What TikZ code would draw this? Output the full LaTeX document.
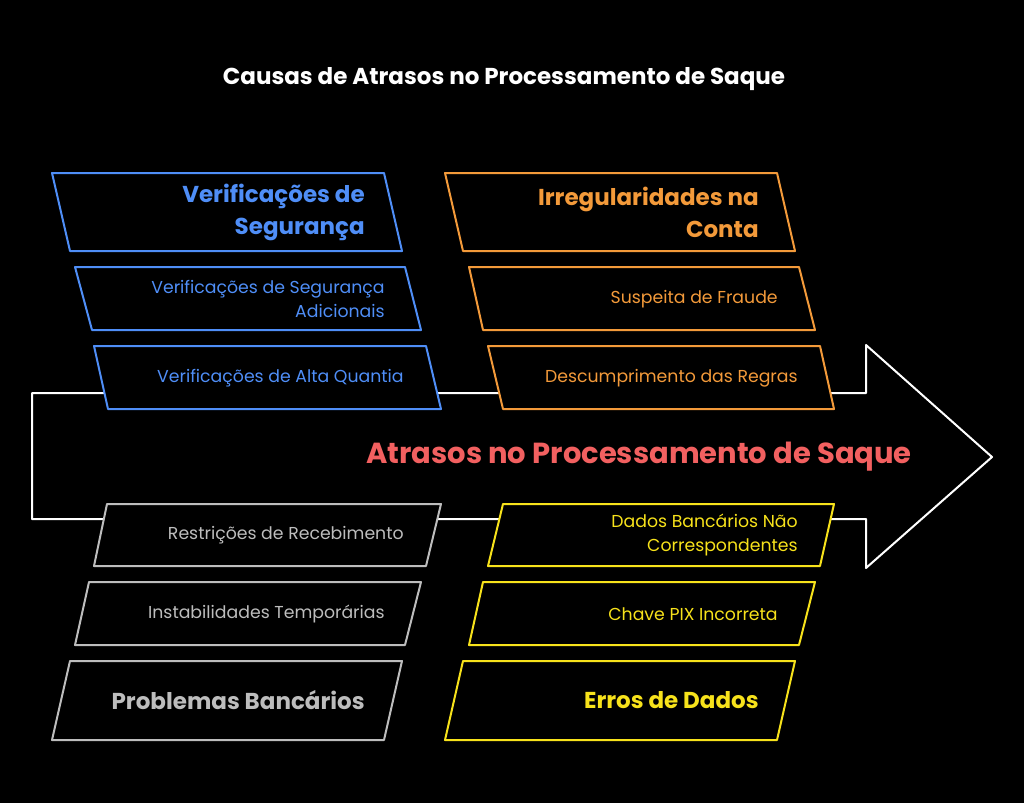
\documentclass[tikz,border=0pt]{standalone}
\usepackage{fontspec}
\setmainfont{Poppins}
\definecolor{cb}{HTML}{4F8EF7}
\definecolor{co}{HTML}{F39A3A}
\definecolor{cg}{HTML}{BDBDBD}
\definecolor{cy}{HTML}{F7E21B}
\definecolor{cr}{HTML}{F26060}
\begin{document}
\begin{tikzpicture}[x=1pt,y=-1pt,line width=2pt,line join=round,
  hd/.style={font=\bfseries\fontsize{23}{32}\selectfont,align=right,anchor=east},
  it/.style={font=\fontsize{17.3}{24}\selectfont,align=right,anchor=east}]
\fill[black] (0,0) rectangle (1024,803);
\useasboundingbox (0,0) rectangle (1024,803);
\node[font=\bfseries\fontsize{23}{26}\selectfont,white] (title) at (504,79) {Causas de Atrasos no Processamento de Saque};
\draw[white] (32,393) -- (866,393) -- (866,345) -- (992,457) -- (866,568) -- (866,519) -- (32,519) -- cycle;
\node[font=\bfseries\fontsize{29}{32}\selectfont,cr] (main) at (639,457) {Atrasos no Processamento de Saque};
% blue
\draw[cb,fill=black] (52,173)--(384,173)--(402,251)--(70,251)--cycle;
\node[hd,cb] (b1) at (369,212) {Verificações de\\Segurança};
\draw[cb,fill=black] (75,267)--(405,267)--(421,330)--(92,330)--cycle;
\node[it,cb] (b2) at (389,299) {Verificações de Segurança\\Adicionais};
\draw[cb,fill=black] (94,346)--(426,346)--(441,409)--(108,409)--cycle;
\node[it,cb] (b3) at (408,378) {Verificações de Alta Quantia};
% orange
\draw[co,fill=black] (445,173)--(777,173)--(795,251)--(463,251)--cycle;
\node[hd,co] (o1) at (763,212) {Irregularidades na\\Conta};
\draw[co,fill=black] (469,267)--(799,267)--(815,330)--(483,330)--cycle;
\node[it,co] (o2) at (782,299) {Suspeita de Fraude};
\draw[co,fill=black] (488,346)--(820,346)--(834,409)--(503,409)--cycle;
\node[it,co] (o3) at (802,378) {Descumprimento das Regras};
% gray
\draw[cg,fill=black] (107,504)--(441,504)--(426,566)--(94,566)--cycle;
\node[it,cg] (g1) at (408,535) {Restrições de Recebimento};
\draw[cg,fill=black] (89,582)--(421,582)--(405,645)--(75,645)--cycle;
\node[it,cg] (g2) at (389,614) {Instabilidades Temporárias};
\draw[cg,fill=black] (70,661)--(402,661)--(384,740)--(52,740)--cycle;
\node[hd,cg] (g3) at (369,700) {Problemas Bancários};
% yellow
\draw[cy,fill=black] (503,504)--(834,504)--(820,566)--(488,566)--cycle;
\node[it,cy] (y1) at (802,535) {Dados Bancários Não\\Correspondentes};
\draw[cy,fill=black] (483,582)--(815,582)--(799,645)--(469,645)--cycle;
\node[it,cy] (y2) at (782,614) {Chave PIX Incorreta};
\draw[cy,fill=black] (463,661)--(795,661)--(777,740)--(445,740)--cycle;
\node[hd,cy] (y3) at (763,700) {Erros de Dados};
\end{tikzpicture}
\end{document}
